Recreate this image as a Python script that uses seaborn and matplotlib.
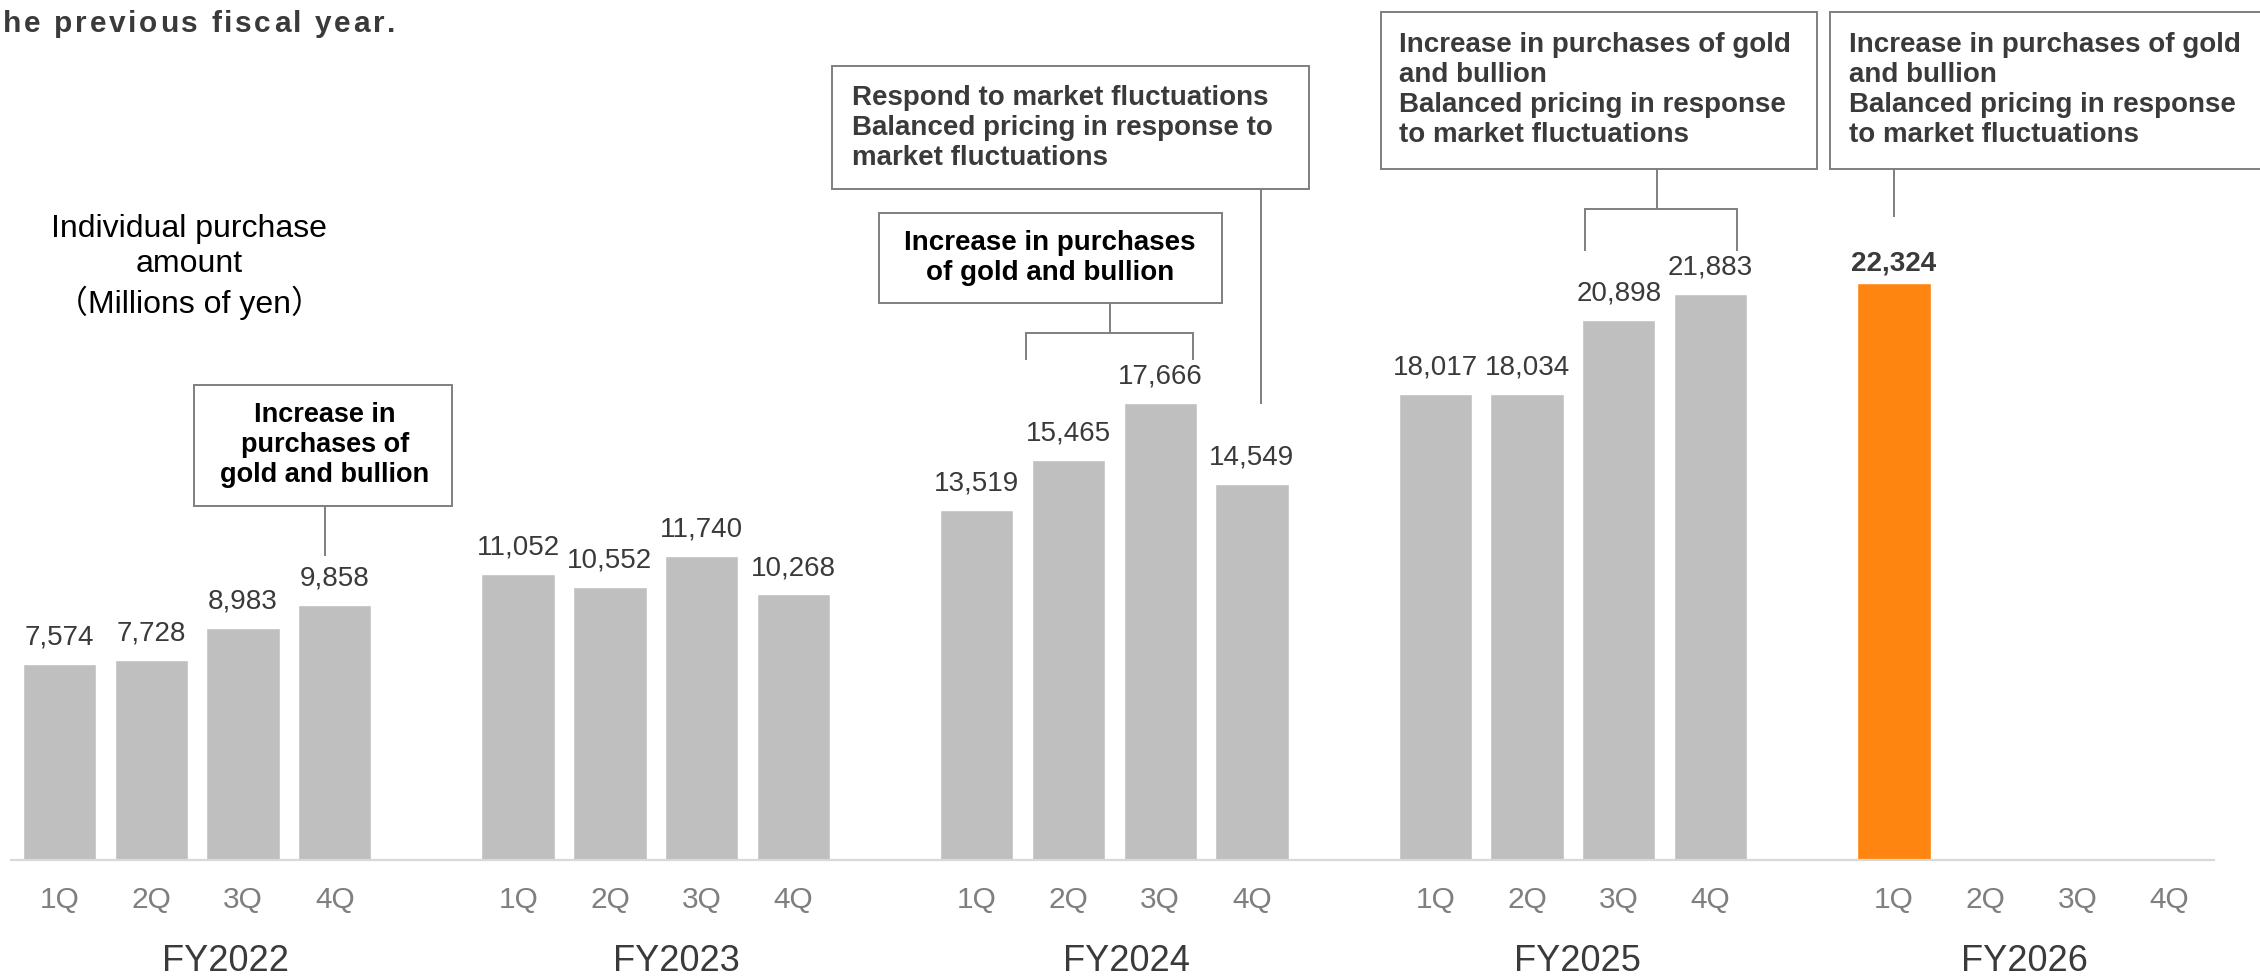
import matplotlib
matplotlib.use("Agg")
import matplotlib.pyplot as plt
import matplotlib.patches as mpatches
from matplotlib.font_manager import FontProperties, findfont, get_font
import numpy as np
import pandas as pd
import seaborn as sns

# ---- data -------------------------------------------------------------
fiscal_years = ["FY2022", "FY2023", "FY2024", "FY2025", "FY2026"]
quarters = ["1Q", "2Q", "3Q", "4Q"]
fy2022 = [7574, 7728, 8983, 9858]
fy2023 = [11052, 10552, 11740, 10268]
fy2024 = [13519, 15465, 17666, 14549]
fy2025 = [18017, 18034, 20898, 21883]
fy2026 = [22324, None, None, None]
yearly_values = [fy2022, fy2023, fy2024, fy2025, fy2026]

title_tail = "he previous fiscal year."
y_label = "Individual purchase\namount\n\uff08Millions of yen\uff09"
note_gold = "Increase in\npurchases of\ngold and bullion"
note_market = "Respond to market fluctuations\nBalanced pricing in response to\nmarket fluctuations"
note_gold_2 = "Increase in purchases\nof gold and bullion"
note_both = ("Increase in purchases of gold\nand bullion\n"
             "Balanced pricing in response\nto market fluctuations")

# ---- style ------------------------------------------------------------
sns.set_style("white")
plt.rcParams["font.family"] = ["Liberation Sans", "Noto Sans CJK JP", "DejaVu Sans"]

GREY_BAR = "#bfbfbf"
ORANGE = "#fe850f"
DARK = "#3a3a3a"
TICK_GREY = "#7f7f7f"
LINE_GREY = "#7f7f7f"

# one slot per quarter, one empty slot between fiscal years
SLOTS_PER_YEAR = len(quarters) + 1
rows = []
for gi, (fy, vals) in enumerate(zip(fiscal_years, yearly_values)):
    for qi, (q, v) in enumerate(zip(quarters, vals)):
        rows.append({"fy": fy, "quarter": q, "pos": gi * SLOTS_PER_YEAR + qi,
                     "value": v,
                     "series": "latest" if fy == fiscal_years[-1] else "past"})
df = pd.DataFrame(rows)
bars = df.dropna(subset=["value"])

fig = plt.figure(figsize=(22.6, 9.77), dpi=100)
ax = fig.add_axes([11 / 2260, 1 - 860 / 977, (2214 - 11) / 2260, 860 / 977])

sns.barplot(data=bars, x="pos", y="value", hue="series",
            palette={"past": GREY_BAR, "latest": ORANGE},
            native_scale=True, dodge=False, width=0.8, legend=False,
            saturation=1, ax=ax, errorbar=None)

ax.set_xlim(-0.53, 23.49)
ax.set_ylim(0, 33256)
ax.set_xlabel("")
ax.set_ylabel("")
ax.set_yticks([])
for side in ["left", "right", "top"]:
    ax.spines[side].set_visible(False)
ax.spines["bottom"].set_color("#d9d9d9")
ax.spines["bottom"].set_linewidth(1.6)
ax.patch.set_alpha(0)

# quarter tick labels
ax.set_xticks(df["pos"].to_numpy())
ax.set_xticklabels(df["quarter"].tolist())
ax.tick_params(axis="x", length=0, pad=28.5, labelsize=21.5, labelcolor=TICK_GREY)
for lab in ax.get_xticklabels():
    lab.set_verticalalignment("center")

# fiscal-year labels under each group
fy_label_x = [1.81, 6.72, 11.63, 16.55, 21.42]
for fy, xpos in zip(fiscal_years, fy_label_x):
    ax.annotate(fy, xy=(xpos, 0), xycoords=("data", "axes fraction"),
                xytext=(0, -73), textcoords="offset points",
                ha="center", va="center", fontsize=26, color=DARK)

# value labels above the bars
for _, r in bars.iterrows():
    latest = r["series"] == "latest"
    ax.annotate(f"{int(r['value']):,}", xy=(r["pos"], r["value"]),
                xytext=(0, 9 if latest else 14), textcoords="offset points",
                ha="center", va="baseline", fontsize=20,
                fontweight="bold" if latest else "normal", color=DARK)

# y-axis caption
fig.text(189 / 2260, 1 - 267 / 977, y_label, ha="center", va="center",
         multialignment="center", fontsize=23, color="black", linespacing=1.22)

# title tail with wide letter spacing
TITLE_SIZE = 21.5
fp = FontProperties(family="Liberation Sans", weight="bold", size=TITLE_SIZE)
ft = get_font(findfont(fp))
ft.set_size(TITLE_SIZE, fig.dpi)
x_px = 3.0
for ch in title_tail:
    fig.text(x_px / 2260, 1 - 32 / 977, ch, fontproperties=fp, color=DARK,
             ha="left", va="baseline")
    glyph = ft.load_char(ord(ch))
    x_px += glyph.linearHoriAdvance / 65536 + 2.7


def note_box(x0, x1, y0, y1):
    ax.add_patch(mpatches.Rectangle((x0, y0), x1 - x0, y1 - y0, facecolor="white",
                                    edgecolor=LINE_GREY, linewidth=1.4,
                                    clip_on=False, zorder=3))


def leader(xs, ys):
    ax.plot(xs, ys, color=LINE_GREY, linewidth=1.4, clip_on=False, zorder=3,
            solid_capstyle="butt", solid_joinstyle="miter")


# FY2022 note
note_box(1.47, 4.28, 13689, 18368)
ax.text(2.89, 16029, note_gold, ha="center", va="center", multialignment="center",
        fontsize=19.5, fontweight="bold", color="black", linespacing=1.2, zorder=4)
leader([2.89, 2.89], [13689, 11756])

# FY2024 notes
note_box(8.42, 13.62, 25947, 30703)
ax.text(8.64, 28325, note_market, ha="left", va="center", fontsize=20,
        fontweight="bold", color=DARK, linespacing=1.2, zorder=4)
leader([13.1, 13.1], [25947, 17633])

note_box(8.93, 12.67, 21539, 25019)
ax.text(10.8, 23279, note_gold_2, ha="center", va="center", multialignment="center",
        fontsize=20, fontweight="bold", color="black", linespacing=1.2, zorder=4)
leader([11.45, 11.45], [21539, 20379])
leader([10.54, 10.54, 12.36, 12.36], [19335, 20379, 20379, 19335])

# FY2025 note
note_box(14.41, 19.16, 26721, 32792)
ax.text(14.60, 29757, note_both, ha="left", va="center", fontsize=20,
        fontweight="bold", color=DARK, linespacing=1.2, zorder=4)
leader([17.42, 17.42], [26721, 25174])
leader([16.63, 16.63, 18.29, 18.29], [23550, 25174, 25174, 23550])

# FY2026 note
note_box(19.30, 24.2, 26721, 32792)
ax.text(19.51, 29757, note_both, ha="left", va="center", fontsize=20,
        fontweight="bold", color=DARK, linespacing=1.2, zorder=4)
leader([20.0, 20.0], [26721, 24865])

fig.savefig("out.png", dpi=100)
